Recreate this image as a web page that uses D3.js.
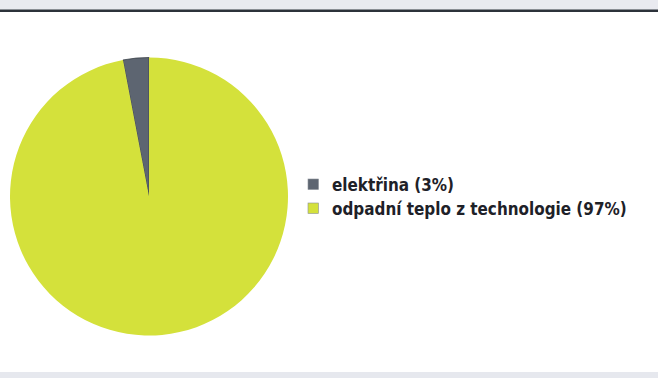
<!DOCTYPE html>
<html><head><meta charset="utf-8">
<script src="https://cdn.jsdelivr.net/npm/d3@7"></script>
<style>html,body{margin:0;padding:0;background:#fff;}svg{display:block;}</style>
</head><body>
<svg id="c" width="658" height="378"></svg>
<script>
const categories = ["elektřina", "odpadní teplo z technologie"];
const values = [3, 97];
const labels = ["elektřina (3%)", "odpadní teplo z technologie (97%)"];
const colors = ["#5d6571", "#d4e13b"];

const svg = d3.select("#c");
// top band and rule
svg.append("rect").attr("x",0).attr("y",0).attr("width",658).attr("height",10).attr("fill","#e9eaf0");
svg.append("rect").attr("x",0).attr("y",9.5).attr("width",658).attr("height",2.5).attr("fill","#2c323a");
// bottom band
svg.append("rect").attr("x",0).attr("y",372).attr("width",658).attr("height",6).attr("fill","#e6e8ee");

const cx = 149, cy = 196.5, r = 139;
const total = d3.sum(values);
const off = values[0] / total * 2 * Math.PI;
const pie = d3.pie().sort(null).startAngle(-off).endAngle(2*Math.PI - off);
const arc = d3.arc().innerRadius(0).outerRadius(r);
const g = svg.append("g").attr("transform", `translate(${cx},${cy})`);
g.selectAll("path").data(pie(values)).join("path")
  .attr("d", arc)
  .attr("fill", (d,i) => colors[i])
  .attr("stroke", (d,i) => i === 0 ? "#3a4048" : "none")
  .attr("stroke-width", 0.8);

const leg = svg.append("g");
const rows = leg.selectAll("g").data(labels).join("g")
  .attr("transform", (d,i) => `translate(308,${179 + i*24})`);
rows.append("rect").attr("width",10.5).attr("height",10.5)
  .attr("fill", (d,i) => colors[i]).attr("stroke","#8a9098").attr("stroke-width",0.6);
const texts = rows.append("text").attr("x",24).attr("y",11.5)
  .attr("font-family","DejaVu Sans Condensed, DejaVu Sans").attr("font-weight","bold").attr("font-size",16)
  .attr("fill","#1e2128").text(d => d);
const w = texts.nodes()[1].getComputedTextLength();
const fs = 16 * 295 / w;
texts.attr("font-size", fs);
</script>
</body></html>
